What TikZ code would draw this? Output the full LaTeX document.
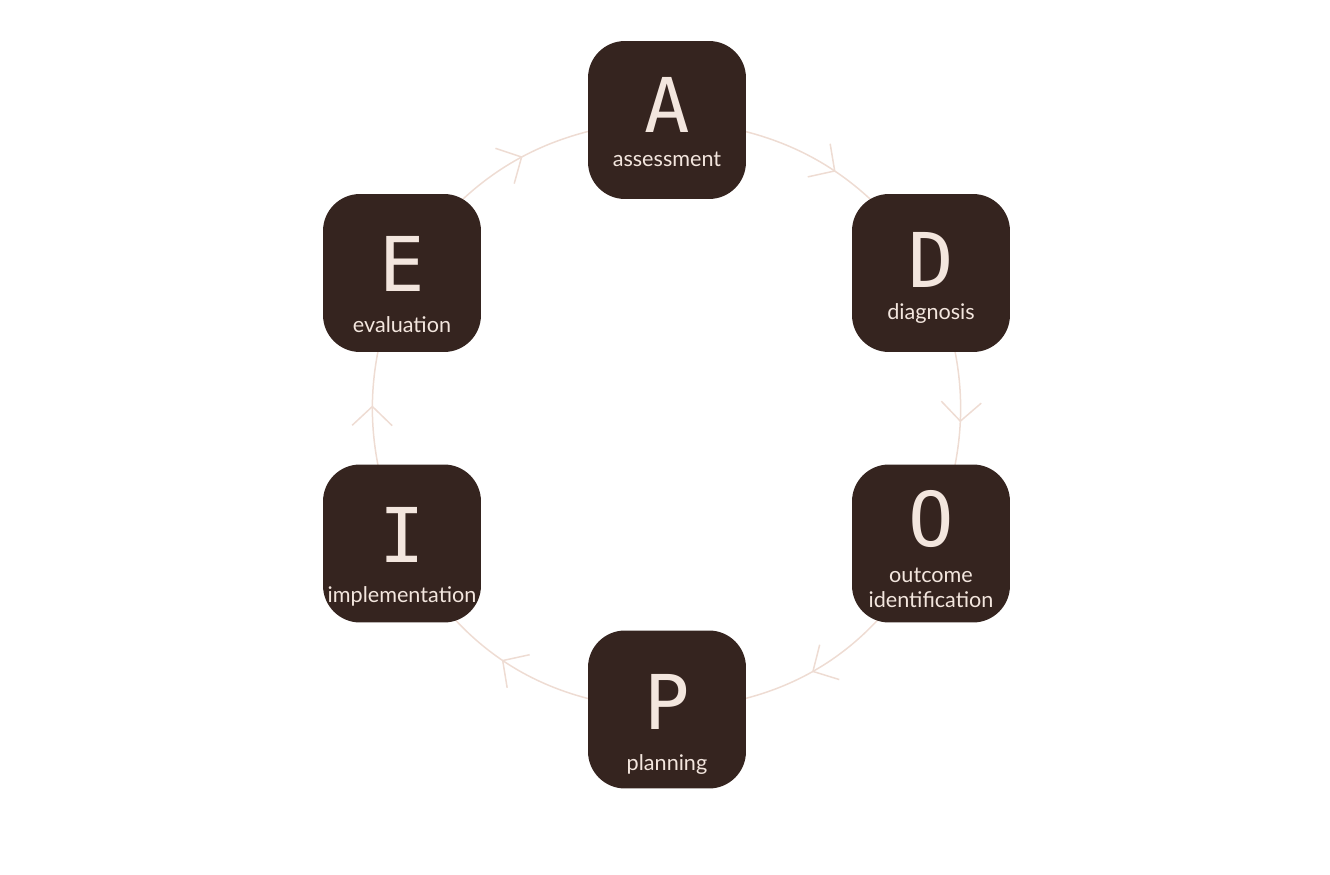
\documentclass[tikz,border=0pt]{standalone}
\usepackage{fontspec}
\setmainfont{Lato}
\newfontfamily\bigletter{DejaVu Sans Mono}
\usetikzlibrary{arrows.meta,decorations.markings}
\pgfdeclarelayer{background}
\pgfsetlayers{background,main}
\definecolor{boxfill}{HTML}{35241F}
\definecolor{txtcol}{HTML}{F3E6DE}
\definecolor{arccol}{HTML}{EEDCD3}
\tikzset{
  stagebox/.style={fill=boxfill, draw=none, minimum width=3.16cm, minimum height=3.16cm, rounded corners=0.74cm, inner sep=0},
  letter/.style={text=txtcol, font=\bigletter\fontsize{43}{43}\selectfont, inner sep=0, anchor=center},
  lbl/.style={text=txtcol, font=\fontsize{12.3}{15}\selectfont, inner sep=0, anchor=base},
  cyc/.style={draw=arccol, line width=0.03cm,
    postaction={decorate},
    decoration={markings, mark=at position #1 with {\arrow[arccol, line width=0.03cm]{Straight Barb[length=0.38cm, width=0.8cm]}}}},
  cyc/.default=0.54
}
\begin{document}
\begin{tikzpicture}[x=0.02cm, y=0.02cm]
\useasboundingbox (0,0) rectangle (1330,-875);
% boxes
\node[stagebox] (A) at (667,-120) {};
\node[stagebox] (D) at (931,-273) {};
\node[stagebox] (O) at (931,-543.5) {};
\node[stagebox] (P) at (667,-709.5) {};
\node[stagebox] (I) at (402,-543.5) {};
\node[stagebox] (E) at (402,-273) {};
% connectors (behind the boxes)
\begin{pgfonlayer}{background}
\draw[cyc=0.53] (E.center) to[bend left=27] (A.center);
\draw[cyc=0.56] (A.center) to[bend left=27] (D.center);
\draw[cyc=0.55] (D.center) to[bend left=22] (O.center);
\draw[cyc=0.54] (O.center) to[bend left=30] (P.center);
\draw[cyc=0.53] (P.center) to[bend left=30] (I.center);
\draw[cyc=0.51] (I.center) to[bend left=22] (E.center);
\end{pgfonlayer}
% letters
\node[letter] (lA) at (667,-104.5) {A};
\node[letter] (lD) at (931,-260) {D};
\node[letter] (lO) at (931,-519) {O};
\node[letter] (lP) at (667,-701.5) {P};
\node[letter] (lI) at (402,-535) {I};
\node[letter] (lE) at (402,-264) {E};
% labels
\node[lbl] (tA) at (667,-167) {assessment};
\node[lbl] (tD) at (931,-319) {diagnosis};
\node[lbl] (tO1) at (931,-582) {outcome};
\node[lbl] (tO2) at (931,-607) {identification};
\node[lbl] (tP) at (667,-770) {planning};
\node[lbl] (tI) at (402,-602) {implementation};
\node[lbl] (tE) at (402,-332) {evaluation};
\end{tikzpicture}
\end{document}
